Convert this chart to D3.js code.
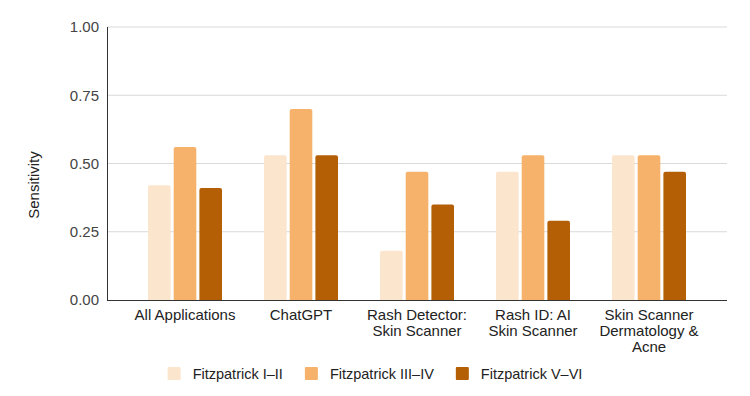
<!DOCTYPE html>
<html>
<head>
<meta charset="utf-8">
<script src="https://cdn.jsdelivr.net/npm/d3@7"></script>
<style>
  body { margin: 0; background: #fff; }
  text { font-family: "Liberation Sans", Arial, sans-serif; }
</style>
</head>
<body>
<div id="chart"></div>
<script>
var categories = [
  ["All Applications"],
  ["ChatGPT"],
  ["Rash Detector:", "Skin Scanner"],
  ["Rash ID: AI", "Skin Scanner"],
  ["Skin Scanner", "Dermatology &", "Acne"]
];
var seriesNames = ["Fitzpatrick I\u2013II", "Fitzpatrick III\u2013IV", "Fitzpatrick V\u2013VI"];
var fitz12 = [0.42, 0.53, 0.18, 0.47, 0.53];
var fitz34 = [0.56, 0.70, 0.47, 0.53, 0.53];
var fitz56 = [0.41, 0.53, 0.35, 0.29, 0.47];
var yTicks = [0, 0.25, 0.5, 0.75, 1];
var colors = ["#fce5cd", "#f6b26b", "#b45f06"];

(function() {
  var width = 750, height = 396;
  var left = 107, right = 727, top = 27, bottom = 300;

  var svg = d3.select("#chart").append("svg")
    .attr("width", width).attr("height", height);

  var series = [fitz12, fitz34, fitz56];
  var idx = categories.map(function(d, i) { return i; });

  var yScale = d3.scaleLinear().domain([0, 1]).range([bottom, top]);
  var xScale = d3.scaleBand().domain(idx).range([127, 707]);
  var inner = d3.scaleBand().domain([0, 1, 2]).range([-37, 37]).paddingInner(0.12);

  // gridlines
  svg.append("g").selectAll("line")
    .data(yTicks.filter(function(t) { return t > 0; }))
    .enter().append("line")
    .attr("x1", left).attr("x2", right)
    .attr("y1", function(d) { return yScale(d); })
    .attr("y2", function(d) { return yScale(d); })
    .attr("stroke", "#d9d9d9").attr("stroke-width", 1);

  // tick labels
  svg.append("g").selectAll("text")
    .data(yTicks)
    .enter().append("text")
    .attr("x", 99)
    .attr("y", function(d) { return yScale(d); })
    .attr("dy", "0.35em")
    .attr("text-anchor", "end")
    .attr("font-size", 15)
    .attr("fill", "#444")
    .text(function(d) { return d3.format(".2f")(d); });

  // bars
  function barPath(x, y, w, h) {
    var r = Math.min(2, h);
    return "M" + x + "," + (y + h) + "V" + (y + r) +
      "Q" + x + "," + y + " " + (x + r) + "," + y +
      "H" + (x + w - r) +
      "Q" + (x + w) + "," + y + " " + (x + w) + "," + (y + r) +
      "V" + (y + h) + "Z";
  }
  series.forEach(function(vals, s) {
    svg.append("g").selectAll("path")
      .data(vals)
      .enter().append("path")
      .attr("fill", colors[s])
      .attr("d", function(d, i) {
        var cx = xScale(i) + xScale.bandwidth() / 2;
        var x = cx + inner(s);
        return barPath(x, yScale(d), inner.bandwidth(), bottom - yScale(d));
      });
  });

  // axes lines
  svg.append("line").attr("x1", left + 0.5).attr("x2", left + 0.5).attr("y1", top).attr("y2", bottom)
    .attr("stroke", "#333").attr("stroke-width", 1);
  svg.append("line").attr("x1", left).attr("x2", right).attr("y1", bottom + 0.5).attr("y2", bottom + 0.5)
    .attr("stroke", "#333").attr("stroke-width", 1);

  // category labels
  var lab = svg.append("g").selectAll("text")
    .data(categories)
    .enter().append("text")
    .attr("text-anchor", "middle")
    .attr("font-size", 15)
    .attr("fill", "#222")
    .attr("x", function(d, i) { return xScale(i) + xScale.bandwidth() / 2; })
    .attr("y", 320);
  lab.selectAll("tspan")
    .data(function(d) { return d; })
    .enter().append("tspan")
    .attr("x", function() { return d3.select(this.parentNode).attr("x"); })
    .attr("dy", function(d, i) { return i === 0 ? 0 : 16; })
    .text(function(d) { return d; });

  // y title
  svg.append("text")
    .attr("transform", "translate(39,185) rotate(-90)")
    .attr("text-anchor", "middle")
    .attr("font-size", 15)
    .attr("fill", "#222")
    .text("Sensitivity");

  // legend, centred under the chart
  var legend = svg.append("g");
  var lx = 0;
  var items = legend.selectAll("g")
    .data(seriesNames)
    .enter().append("g");
  items.append("rect").attr("width", 13).attr("height", 13).attr("rx", 1)
    .attr("fill", function(d, i) { return colors[i]; });
  items.append("text").attr("x", 25).attr("y", 6.5).attr("dy", "0.35em")
    .attr("font-size", 14.5).attr("fill", "#222")
    .text(function(d) { return d; });
  items.each(function() {
    var g = d3.select(this);
    g.attr("transform", "translate(" + lx + ",0)");
    lx += 25 + g.select("text").node().getComputedTextLength() + 22;
  });
  lx -= 22;
  legend.attr("transform", "translate(" + (width / 2 - lx / 2) + ",367)");
})();
</script>
</body>
</html>
